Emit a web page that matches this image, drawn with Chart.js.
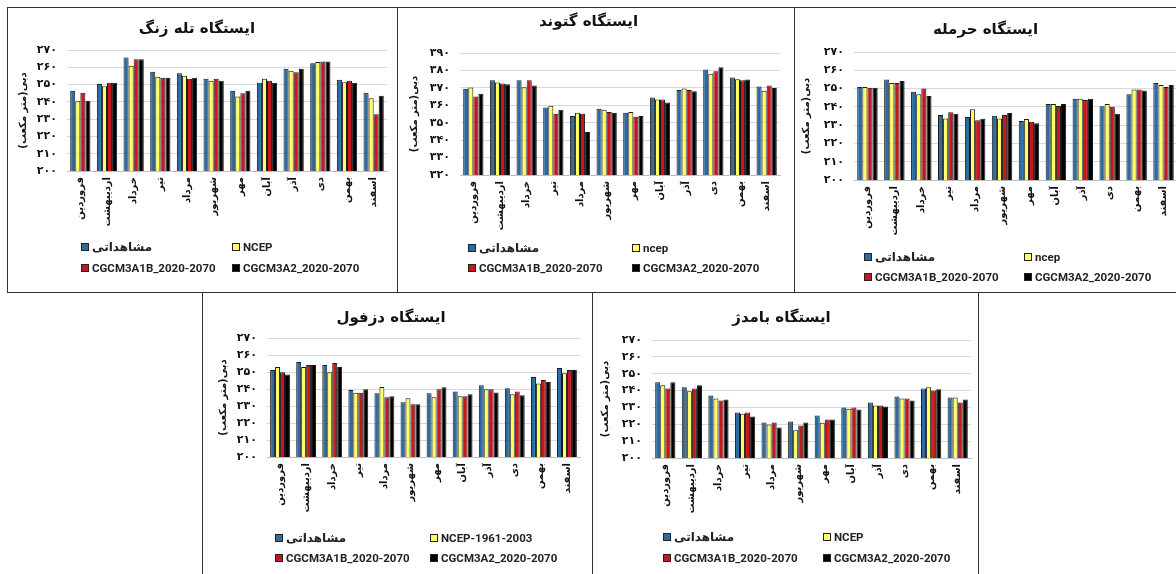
<!DOCTYPE html>
<html>
<head>
<meta charset="utf-8">
<script src="https://cdn.jsdelivr.net/npm/chart.js@4.4.1/dist/chart.umd.min.js"></script>
<style>
  body { margin: 0; background: #fff; width: 1176px; height: 574px; overflow: hidden; position: relative; }
  canvas { position: absolute; }
  .line { position: absolute; background: #333; z-index: 2; }
</style>
</head>
<body>
<canvas id="taleZang" width="390" height="285" style="left:7px;top:7px"></canvas>
<canvas id="gotvand" width="397" height="285" style="left:397px;top:7px"></canvas>
<canvas id="harmaleh" width="390" height="285" style="left:794px;top:7px"></canvas>
<canvas id="dezful" width="390" height="282" style="left:202px;top:292px"></canvas>
<canvas id="bamdej" width="386" height="282" style="left:592px;top:292px"></canvas>

<div class="line" style="left:7px;top:7px;width:1169px;height:1px"></div>
<div class="line" style="left:7px;top:7px;width:1px;height:285px"></div>
<div class="line" style="left:397px;top:7px;width:1px;height:285px"></div>
<div class="line" style="left:794px;top:7px;width:1px;height:285px"></div>
<div class="line" style="left:7px;top:292px;width:1169px;height:1px"></div>
<div class="line" style="left:202px;top:292px;width:1px;height:282px"></div>
<div class="line" style="left:592px;top:292px;width:1px;height:282px"></div>
<div class="line" style="left:978px;top:292px;width:1px;height:282px"></div>

<script>
// ماه ها
const months = ['فروردین', 'اردیبهشت', 'خرداد', 'تیر', 'مرداد', 'شهریور', 'مهر', 'آبان', 'آذر', 'دی', 'بهمن', 'اسفند'];

// ایستگاه تله زنگ
const taleZangObs  = [246.4, 250.3, 265.7, 257.4, 256.5, 253.4, 246.4, 251.0, 259.2, 262.3, 252.8, 245.2];
const taleZangNcep = [240.4, 249.1, 260.9, 254.5, 255.1, 252.2, 243.1, 253.4, 258.0, 263.0, 251.4, 242.1];
const taleZangA1B  = [245.2, 251.0, 264.6, 253.9, 253.4, 253.4, 245.0, 252.2, 257.2, 263.4, 252.2, 232.9];
const taleZangA2   = [240.6, 251.0, 264.6, 253.9, 253.9, 252.2, 246.4, 251.0, 259.2, 263.4, 251.0, 243.5];

// ایستگاه گتوند
const gotvandObs  = [369.5, 374.3, 374.3, 358.7, 353.9, 358.0, 355.7, 364.5, 368.7, 380.6, 376.0, 370.8];
const gotvandNcep = [370.2, 373.1, 370.4, 359.7, 355.7, 357.4, 356.2, 363.3, 369.7, 378.1, 375.0, 368.3];
const gotvandA1B  = [365.1, 372.5, 374.3, 355.1, 355.1, 356.2, 353.4, 363.3, 368.7, 379.6, 374.3, 371.4];
const gotvandA2   = [366.6, 372.0, 371.4, 357.4, 344.7, 355.7, 353.9, 361.6, 368.0, 381.8, 374.8, 369.9];

// ایستگاه حرمله
const harmalehObs  = [250.9, 254.9, 248.2, 235.5, 234.5, 235.1, 232.2, 241.6, 244.4, 240.4, 246.9, 253.1];
const harmalehNcep = [250.9, 253.1, 246.9, 233.6, 238.7, 233.6, 233.3, 241.6, 244.4, 241.6, 249.5, 252.0];
const harmalehA1B  = [250.4, 253.1, 250.0, 237.1, 232.7, 235.5, 231.8, 240.5, 243.8, 240.0, 249.5, 250.9];
const harmalehA2   = [250.4, 254.2, 246.0, 236.2, 233.5, 236.7, 231.1, 241.6, 244.4, 236.2, 248.9, 252.0];

// ایستگاه دزفول
const dezfulObs  = [251.2, 255.9, 254.1, 239.4, 237.5, 232.2, 237.5, 238.6, 242.2, 240.4, 247.1, 252.4];
const dezfulNcep = [252.9, 252.9, 249.8, 237.8, 241.2, 234.5, 235.1, 235.7, 239.8, 236.9, 243.3, 249.2];
const dezfulA1B  = [249.8, 254.1, 255.3, 237.8, 235.1, 231.0, 239.8, 235.7, 239.8, 238.6, 245.3, 251.2];
const dezfulA2   = [248.6, 254.1, 252.9, 239.8, 235.7, 231.0, 241.0, 236.9, 238.0, 236.3, 244.1, 251.2];

// ایستگاه بامدژ
const bamdejObs  = [245.0, 242.0, 237.1, 227.0, 221.1, 221.7, 225.2, 230.0, 232.9, 236.5, 241.2, 235.9];
const bamdejNcep = [243.2, 239.6, 235.3, 226.2, 219.9, 216.5, 220.9, 229.2, 231.1, 235.3, 242.0, 235.9];
const bamdejA1B  = [241.2, 241.2, 234.1, 227.0, 221.1, 219.3, 222.9, 230.0, 231.1, 235.3, 240.0, 232.9];
const bamdejA2   = [245.0, 243.2, 234.7, 224.6, 218.1, 221.1, 222.9, 228.8, 230.6, 234.1, 240.8, 234.7];

const colors = ['#2B6CA3', '#FFFF66', '#C8161D', '#000000'];
const faFont = "'DejaVu Sans'";
const latinFont = "Roboto, 'DejaVu Sans'";

// ارقام فارسی برای برچسب ها
const fa = n => String(n).replace(/\d/g, d => '۰۱۲۳۴۵۶۷۸۹'[d]);

// راهنما به صورت دو ستونی مثل اکسل
const gridLegend = {
  id: 'gridLegend',
  afterDraw(chart, args, opts) {
    const ctx = chart.ctx;
    ctx.save();
    ctx.textBaseline = 'middle';
    ctx.textAlign = 'left';
    chart.data.datasets.forEach((ds, i) => {
      const x = opts.cols[i % 2], y = opts.rows[Math.floor(i / 2)];
      ctx.fillStyle = ds.backgroundColor;
      ctx.fillRect(x, y - 4, 8, 8);
      ctx.strokeStyle = '#222';
      ctx.lineWidth = 1;
      ctx.strokeRect(x + 0.5, y - 3.5, 7, 7);
      ctx.fillStyle = '#222';
      const persian = /[\u0600-\u06FF]/.test(ds.label);
      ctx.font = persian ? 'bold 12px ' + faFont : 'bold 11.5px ' + latinFont;
      ctx.fillText(ds.label, x + 11, y + 1);
    });
    ctx.restore();
  }
};

function station(id, p) {
  new Chart(document.getElementById(id), {
    type: 'bar',
    data: {
      labels: months,
      datasets: p.series.map((s, i) => ({
        label: p.names[i],
        data: s,
        backgroundColor: colors[i],
        borderColor: '#1a1a1a',
        borderWidth: 1,
        categoryPercentage: 0.76,
        barPercentage: 1.0
      }))
    },
    options: {
      responsive: false,
      animation: false,
      layout: { padding: { right: p.padRight } },
      plugins: {
        legend: { display: false },
        tooltip: { enabled: false },
        title: {
          display: true,
          text: p.title,
          color: '#111',
          font: { family: faFont, size: 15, weight: 'bold', lineHeight: 1.2 },
          padding: { top: p.titleTop, bottom: p.titleBottom }
        },
        gridLegend: { cols: p.legendCols, rows: p.legendRows }
      },
      scales: {
        x: {
          grid: { display: false, drawTicks: false },
          border: { color: '#bfbfbf' },
          ticks: {
            autoSkip: false, minRotation: 90, maxRotation: 90, padding: 6,
            color: '#111', font: { family: faFont, size: 10, weight: 'bold' }
          },
          afterFit: s => { s.height = p.xHeight; }
        },
        y: {
          min: p.min, max: p.max,
          grid: { color: '#d9d9d9', drawTicks: false },
          border: { display: false },
          ticks: {
            stepSize: 10, padding: 10, callback: v => fa(v),
            color: '#111', font: { family: faFont, size: 11, weight: 'bold' }
          },
          title: {
            display: true,
            text: 'دبی(متر مکعب)\u200F',
            color: '#111',
            padding: { top: p.yTitlePad, bottom: 0 },
            font: { family: faFont, size: 10, weight: 'bold', lineHeight: 1.2 }
          },
          afterFit: s => { s.width = p.yWidth; }
        }
      }
    },
    plugins: [gridLegend]
  });
}

const a1b = 'CGCM3A1B_2020-2070', a2 = 'CGCM3A2_2020-2070';

station('taleZang', {
  title: 'ایستگاه تله زنگ', min: 200, max: 270,
  series: [taleZangObs, taleZangNcep, taleZangA1B, taleZangA2],
  names: ['مشاهداتی', 'NCEP', a1b, a2],
  titleTop: 13, titleBottom: 12, xHeight: 121, yWidth: 60, padRight: 10, yTitlePad: 10,
  legendCols: [74, 225], legendRows: [240, 261]
});
station('gotvand', {
  title: 'ایستگاه گتوند', min: 320, max: 390,
  series: [gotvandObs, gotvandNcep, gotvandA1B, gotvandA2],
  names: ['مشاهداتی', 'ncep', a1b, a2],
  titleTop: 6, titleBottom: 22, xHeight: 117, yWidth: 63, padRight: 14, yTitlePad: 11,
  legendCols: [71, 235], legendRows: [241, 261]
});
station('harmaleh', {
  title: 'ایستگاه حرمله', min: 200, max: 270,
  series: [harmalehObs, harmalehNcep, harmalehA1B, harmalehA2],
  names: ['مشاهداتی', 'ncep', a1b, a2],
  titleTop: 14, titleBottom: 13, xHeight: 112, yWidth: 60, padRight: 7, yTitlePad: 6,
  legendCols: [70, 230], legendRows: [250, 270]
});
station('dezful', {
  title: 'ایستگاه دزفول', min: 200, max: 270,
  series: [dezfulObs, dezfulNcep, dezfulA1B, dezfulA2],
  names: ['مشاهداتی', 'NCEP-1961-2003', a1b, a2],
  titleTop: 17, titleBottom: 11, xHeight: 117, yWidth: 65, padRight: 12, yTitlePad: 15,
  legendCols: [73, 228], legendRows: [246, 266]
});
station('bamdej', {
  title: 'ایستگاه بامدژ', min: 200, max: 270,
  series: [bamdejObs, bamdejNcep, bamdejA1B, bamdejA2],
  names: ['مشاهداتی', 'NCEP', a1b, a2],
  titleTop: 17, titleBottom: 13, xHeight: 116, yWidth: 60, padRight: 7, yTitlePad: 7,
  legendCols: [71, 231], legendRows: [245, 266]
});
</script>
</body>
</html>
